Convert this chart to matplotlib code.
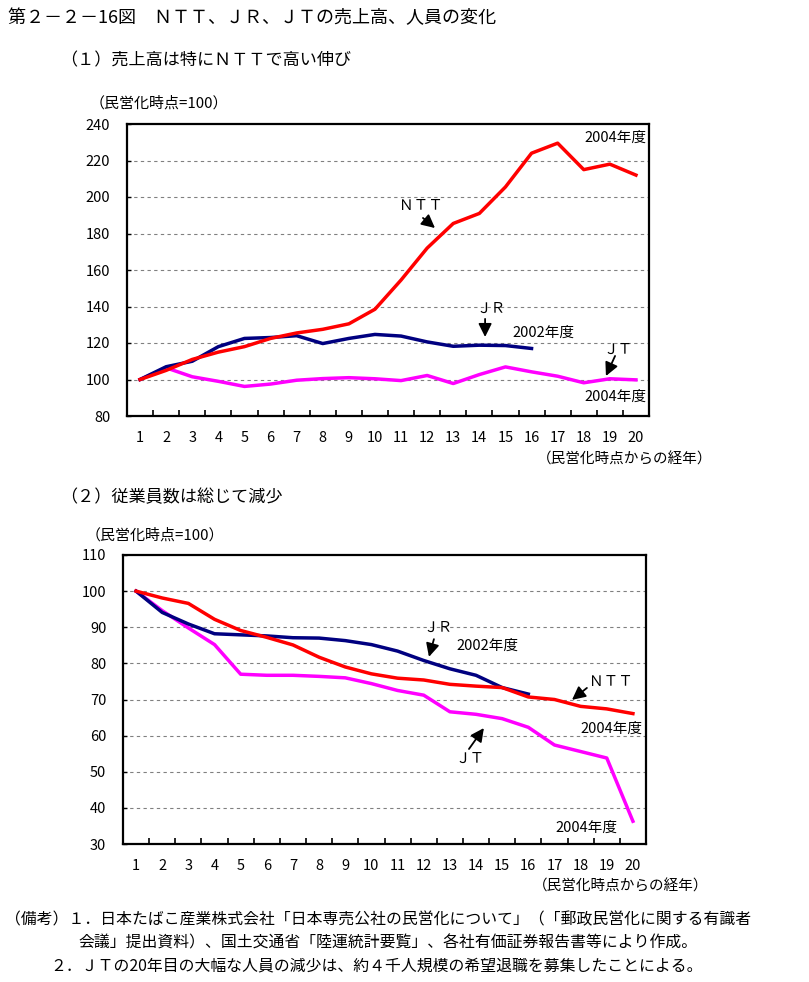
import numpy as np
import matplotlib
matplotlib.use("Agg")
import matplotlib.pyplot as plt

plt.rcParams['font.family'] = ['Noto Sans CJK JP', 'DejaVu Sans']

# data: index (privatisation year = 100), years after privatisation 1..20
years = list(range(1, 21))

sales_ntt = [100, 105, 111, 115, 118, 122.5, 125.5, 127.5, 130.5, 138.5, 154.5,
             172, 185.5, 191, 205.5, 224, 229.5, 215, 218, 212]
sales_jr = [100, 107, 110, 118, 122.5, 123, 124, 119.7, 122.5, 124.7, 123.8,
            120.6, 118.2, 118.8, 118.6, 117]
sales_jt = [100, 106.4, 101.5, 99, 96.2, 97.5, 99.6, 100.5, 101, 100.4, 99.4,
            102.2, 97.8, 102.7, 106.9, 104.2, 101.8, 98.2, 100.4, 99.8]

staff_ntt = [100, 98.1, 96.6, 92.2, 89.1, 87.2, 85.1, 81.7, 79, 77.1, 75.9,
             75.4, 74.2, 73.7, 73.3, 70.7, 70, 68.1, 67.4, 66.1]
staff_jr = [100, 94.1, 90.9, 88.2, 87.9, 87.6, 87.1, 87, 86.3, 85.2, 83.4,
            80.8, 78.5, 76.7, 73.3, 71.5]
staff_jt = [100, 94.6, 89.8, 85.2, 77, 76.7, 76.7, 76.4, 76, 74.4, 72.5,
            71.2, 66.6, 65.9, 64.7, 62.3, 57.4, 55.6, 53.8, 36.3]

c_ntt = '#FF0000'
c_jr = '#000080'
c_jt = '#FF00FF'

W, H = 809, 982
fig = plt.figure(figsize=(W / 100, H / 100), dpi=100)


def box(l, t, r, b):
    return [l / W, 1 - b / H, (r - l) / W, (b - t) / H]


def ftext(x, y, s, size=10.5, ha='left'):
    fig.text(x / W, 1 - y / H, s, fontsize=size, ha=ha, va='center')


def setup(ax, ymin, ymax, step):
    ax.set_xlim(0.5, 20.5)
    ax.set_ylim(ymin, ymax)
    yt = np.arange(ymin, ymax + 1, step)
    ax.set_yticks(yt)
    ax.set_yticklabels([str(v) for v in yt])
    for v in yt[1:-1]:
        ax.axhline(v, color='#808080', lw=0.8, ls=(0, (3, 3)), zorder=0)
    ax.set_xticks(np.arange(1.5, 20, 1))
    ax.set_xticklabels([])
    ax.set_xticks(years, minor=True)
    ax.set_xticklabels([str(v) for v in years], minor=True)
    ax.tick_params(axis='x', which='major', direction='in', length=4, width=1.2)
    ax.tick_params(axis='x', which='minor', length=0, pad=11, labelsize=10.5)
    ax.tick_params(axis='y', direction='in', length=3, width=1, pad=12, labelsize=10.5)
    for s in ax.spines.values():
        s.set_linewidth(1.6)


def note(ax, xy, xytext):
    ax.annotate('', xy=xy, xytext=xytext,
                arrowprops=dict(arrowstyle='-|>,head_length=0.8,head_width=0.4',
                                color='black', lw=1.3, shrinkA=0, shrinkB=0))


# ---- (1) sales
ax1 = fig.add_axes(box(127, 124, 649, 416))
setup(ax1, 80, 240, 20)
lw = 2.5
ax1.plot(years[:len(sales_jt)], sales_jt, color=c_jt, lw=lw)
ax1.plot(years[:len(sales_jr)], sales_jr, color=c_jr, lw=lw)
ax1.plot(years[:len(sales_ntt)], sales_ntt, color=c_ntt, lw=lw)

ax1.text(11.76, 195.1, 'ＮＴＴ', fontsize=10.5, ha='center', va='center')
note(ax1, (12.3, 183), (11.84, 188.5))
ax1.text(14.45, 138.6, 'ＪＲ', fontsize=10.5, ha='center', va='center')
note(ax1, (14.22, 123.3), (14.22, 133.2))
ax1.text(16.44, 125.5, '2002年度', fontsize=10.5, ha='center', va='center')
ax1.text(19.31, 116.2, 'ＪＴ', fontsize=10.5, ha='center', va='center')
note(ax1, (18.85, 101.9), (19.2, 112.9))
ax1.text(19.2, 90.4, '2004年度', fontsize=10.5, ha='center', va='center')
ax1.text(19.2, 232.3, '2004年度', fontsize=10.5, ha='center', va='center')

# ---- (2) employees
ax2 = fig.add_axes(box(123, 555, 646, 844))
setup(ax2, 30, 110, 10)
ax2.plot(years[:len(staff_jt)], staff_jt, color=c_jt, lw=lw)
ax2.plot(years[:len(staff_jr)], staff_jr, color=c_jr, lw=lw)
ax2.plot(years[:len(staff_ntt)], staff_ntt, color=c_ntt, lw=lw)

ax2.text(12.54, 89.8, 'ＪＲ', fontsize=10.5, ha='center', va='center')
note(ax2, (12.2, 81.8), (12.39, 86.7))
ax2.text(14.42, 84.8, '2002年度', fontsize=10.5, ha='center', va='center')
ax2.text(19.16, 74.8, 'ＮＴＴ', fontsize=10.5, ha='center', va='center')
note(ax2, (17.67, 69.9), (18.24, 73.2))
ax2.text(19.16, 61.8, '2004年度', fontsize=10.5, ha='center', va='center')
ax2.text(13.77, 53.5, 'ＪＴ', fontsize=10.5, ha='center', va='center')
note(ax2, (14.3, 62.1), (13.73, 56.3))
ax2.text(18.24, 34.4, '2004年度', fontsize=10.5, ha='center', va='center')

# ---- texts
ftext(8, 18, '第２－２－16図　ＮＴＴ、ＪＲ、ＪＴの売上高、人員の変化', size=13)
ftext(60, 60, '（１）売上高は特にＮＴＴで高い伸び', size=12.3)
ftext(90, 103, '（民営化時点=100）', size=10.8)
ftext(537, 460, '（民営化時点からの経年）')
ftext(60, 497, '（２）従業員数は総じて減少', size=12.3)
ftext(86, 535, '（民営化時点=100）', size=10.8)
ftext(533, 887, '（民営化時点からの経年）')

ftext(5, 920, '（備考）１．日本たばこ産業株式会社「日本専売公社の民営化について」（「郵政民営化に関する有識者', size=11.4)
ftext(78, 943, '会議」提出資料）、国土交通省「陸運統計要覧」、各社有価証券報告書等により作成。', size=11.4)
ftext(50, 966, '２．ＪＴの20年目の大幅な人員の減少は、約４千人規模の希望退職を募集したことによる。', size=11.4)

fig.savefig('out.png', dpi=100)
